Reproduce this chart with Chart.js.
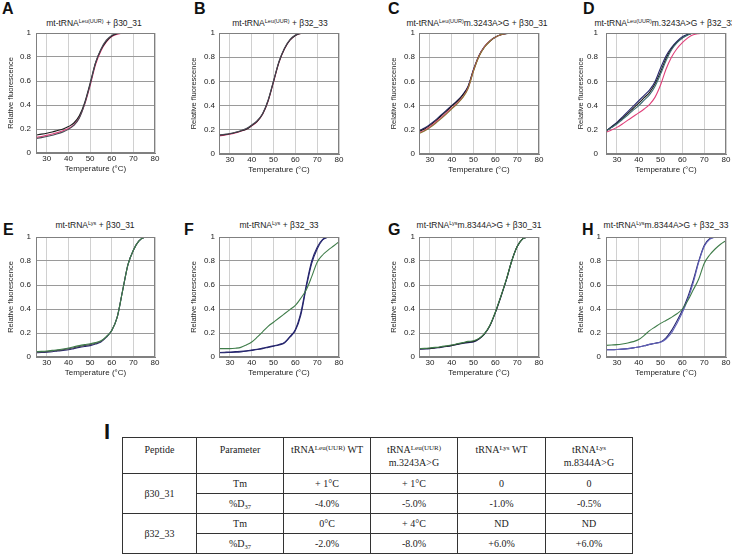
<!DOCTYPE html>
<html>
<head>
<meta charset="utf-8">
<script src="https://cdn.jsdelivr.net/npm/chart.js@4.4.0/dist/chart.umd.min.js"></script>
<style>
  body { margin: 0; background: #fff; }
  #fig { position: relative; width: 732px; height: 559px; overflow: hidden; background: #fff; font-family: "Liberation Sans", Arial, sans-serif; color: #222; }
  .lbl { position: absolute; font-weight: bold; font-size: 16px; line-height: 16px; color: #111; }
  .ttl { position: absolute; font-size: 8.5px; line-height: 10px; white-space: nowrap; transform: translateX(-50%); }
  .ttl sup { font-size: 5.5px; vertical-align: 3px; line-height: 0; }
  table { position: absolute; left: 122px; top: 437px; border-collapse: collapse; font-family: "Liberation Serif", "Times New Roman", serif; font-size: 10px; color: #222; table-layout: fixed; }
  td { border: 1px solid #333; text-align: center; padding: 0; height: 19px; }
  tr.head td { height: 30px; vertical-align: top; padding-top: 5px; line-height: 13px; }
  td sup { font-size: 7px; vertical-align: 3px; line-height: 0; }
  td sub { font-size: 6.5px; vertical-align: -2px; line-height: 0; }
</style>
</head>
<body>
<div id="fig"></div>
<script>
// Temperatures (°C) shared by all melting curves
const temps = [25, 27.5, 30, 32.5, 35, 37.5, 40, 42.5, 45, 47.5, 50, 52.5, 55, 57.5, 60, 62.5, 65, 67.5, 70, 72.5, 75, 77.5, 80];
const xTicks = [30, 40, 50, 60, 70, 80];
const yTicks = [0, 0.2, 0.4, 0.6, 0.8, 1];

// Relative fluorescence, one array per replicate curve
const aBlack = [.15, .157, .165, .175, .188, .2, .22, .25, .31, .42, .58, .75, .86, .93, .975, .995, 1];
const aDark  = [.12, .128, .137, .148, .16, .176, .197, .23, .29, .41, .57, .75, .865, .94, .98, 1];
const aPink  = [.13, .138, .147, .158, .17, .185, .205, .235, .295, .405, .56, .735, .85, .925, .97, .99, 1];

const bBlack = [.155, .16, .167, .177, .19, .205, .235, .27, .33, .44, .6, .76, .87, .94, .98, .997, 1];
const bDark  = [.158, .163, .17, .18, .193, .21, .24, .275, .335, .445, .605, .765, .875, .945, .983, 1];
const bPink  = [.15, .156, .163, .174, .188, .204, .233, .268, .328, .435, .595, .757, .868, .94, .98, .997, 1];

const cNavy  = [.19, .215, .245, .28, .32, .36, .40, .44, .49, .56, .70, .815, .888, .935, .967, .986, .996, 1];
const cBlack = [.185, .207, .237, .272, .312, .352, .395, .435, .485, .555, .695, .81, .885, .932, .965, .985, .995, 1];
const cPink  = [.175, .195, .225, .26, .298, .337, .38, .42, .47, .545, .69, .81, .886, .934, .966, .986, .997, 1];
const cOlive = [.17, .19, .218, .252, .29, .33, .373, .415, .465, .54, .685, .805, .882, .932, .966, .986, .996, 1];

const dNavy  = [.19, .225, .262, .305, .35, .395, .44, .485, .53, .6, .71, .81, .88, .93, .97, .99, 1];
const dBlack = [.19, .222, .255, .295, .335, .378, .42, .465, .51, .58, .68, .79, .87, .922, .96, .985, 1];
const dTeal  = [.19, .218, .248, .285, .322, .362, .4, .445, .49, .56, .66, .77, .86, .918, .958, .984, 1];
const dPink  = [.18, .198, .22, .248, .28, .31, .34, .372, .41, .47, .57, .7, .8, .87, .92, .96, .985, .995, 1];

const eGreen = [.045, .047, .05, .055, .06, .067, .075, .085, .095, .103, .11, .12, .135, .17, .22, .33, .55, .77, .89, .965, .995, 1];
const eNavy  = [.035, .037, .04, .044, .05, .055, .06, .07, .08, .088, .095, .108, .125, .165, .22, .33, .55, .77, .89, .965, .995, 1];
const eDark  = [.04, .042, .045, .05, .055, .061, .068, .077, .088, .096, .103, .114, .13, .168, .22, .33, .55, .77, .89, .965, .995, 1];

const fNavy  = [.035, .036, .038, .04, .043, .048, .055, .062, .07, .08, .09, .1, .117, .165, .22, .35, .58, .78, .9, .975, 1];
const fNavy2 = [.038, .04, .042, .045, .048, .052, .058, .065, .074, .083, .093, .104, .122, .17, .23, .37, .6, .8, .915, .98, 1];
const fGreen = [.07, .07, .07, .073, .08, .1, .125, .165, .21, .255, .29, .325, .36, .395, .43, .49, .56, .67, .79, .85, .89, .925, .96];

const gNavy  = [.065, .067, .07, .075, .08, .087, .095, .105, .113, .12, .125, .15, .19, .26, .37, .5, .64, .8, .92, .985, 1];
const gGreen = [.07, .072, .075, .08, .086, .093, .1, .11, .12, .13, .135, .155, .195, .265, .375, .505, .645, .8, .92, .985, 1];
const gBlack = [.068, .07, .072, .077, .083, .09, .097, .107, .116, .125, .13, .152, .192, .262, .372, .502, .642, .8, .92, .985, 1];

const hNavy  = [.06, .061, .063, .066, .07, .076, .083, .093, .105, .115, .125, .16, .22, .3, .39, .5, .64, .8, .93, .985, 1];
const hBlue  = [.06, .061, .063, .066, .07, .076, .083, .093, .105, .115, .123, .15, .2, .28, .37, .48, .62, .79, .92, .98, 1];
const hGreen = [.097, .1, .103, .109, .117, .128, .145, .18, .22, .25, .28, .305, .33, .36, .4, .47, .56, .65, .78, .85, .9, .94, .97];

// Table I
const tableHead = ['Peptide', 'Parameter', 'tRNA<sup>Leu(UUR)</sup> WT', 'tRNA<sup>Leu(UUR)</sup><br>m.3243A&gt;G', 'tRNA<sup>Lys</sup> WT', 'tRNA<sup>Lys</sup><br>m.8344A&gt;G'];
const peptides = ['β30_31', 'β32_33'];
const params = ['Tm', '%D<sub>37</sub>'];
const tableValues = [
  ['+ 1°C', '+ 1°C', '0', '0'],
  ['-4.0%', '-5.0%', '-1.0%', '-0.5%'],
  ['0°C', '+ 4°C', 'ND', 'ND'],
  ['-2.0%', '-8.0%', '+6.0%', '+6.0%']
];

// Colores
const BLACK = '#1c1c1c', DARK = '#4a4a55', PINK = '#e0407a', NAVY = '#26266e',
      BLUE = '#6060b8', GREEN = '#3f7d4a', TEAL = '#3d6d74', OLIVE = '#8a7a34';

const fig = document.getElementById('fig');

// Paneles: posicion del area del grafico en la figura
const panels = [
  { letter: 'A', lx: 2, ly: 1, title: 'mt-tRNA<sup>Leu(UUR)</sup> + β30_31', tx: 94, ty: 18,
    left: 36, right: 155, top: 33, bottom: 153, titleX: 10, gap: 5,
    series: [[aDark, DARK], [aBlack, BLACK], [aPink, PINK]] },
  { letter: 'B', lx: 194, ly: 1, title: 'mt-tRNA<sup>Leu(UUR)</sup> + β32_33', tx: 280, ty: 18,
    left: 219, right: 339, top: 33, bottom: 154, titleX: 193, gap: 4,
    series: [[bDark, DARK], [bBlack, BLACK], [bPink, PINK]] },
  { letter: 'C', lx: 388, ly: 1, title: 'mt-tRNA<sup>Leu(UUR)</sup>m.3243A&gt;G + β30_31', tx: 477, ty: 18,
    left: 419, right: 539, top: 33, bottom: 154, titleX: 393, gap: 4,
    series: [[cOlive, OLIVE], [cPink, PINK], [cBlack, BLACK], [cNavy, NAVY]] },
  { letter: 'D', lx: 583, ly: 1, title: 'mt-tRNA<sup>Leu(UUR)</sup>m.3243A&gt;G + β32_33', tx: 665, ty: 18,
    left: 606, right: 726, top: 33, bottom: 154, titleX: 580, gap: 8,
    series: [[dTeal, TEAL], [dBlack, BLACK], [dNavy, NAVY], [dPink, PINK]] },
  { letter: 'E', lx: 3, ly: 222, title: 'mt-tRNA<sup>Lys</sup> + β30_31', tx: 95, ty: 220,
    left: 36, right: 155, top: 237, bottom: 357, titleX: 10, gap: 5,
    series: [[eGreen, GREEN], [eDark, DARK], [eNavy, NAVY]] },
  { letter: 'F', lx: 184, ly: 222, title: 'mt-tRNA<sup>Lys</sup> + β32_33', tx: 279, ty: 220,
    left: 219, right: 339, top: 237, bottom: 357, titleX: 193, gap: 4,
    series: [[fGreen, GREEN], [fNavy2, NAVY], [fNavy, NAVY]] },
  { letter: 'G', lx: 388, ly: 222, title: 'mt-tRNA<sup>Lys</sup>m.8344A&gt;G + β30_31', tx: 479, ty: 220,
    left: 419, right: 539, top: 237, bottom: 357, titleX: 393, gap: 4,
    series: [[gGreen, GREEN], [gBlack, BLACK], [gNavy, NAVY]] },
  { letter: 'H', lx: 582, ly: 222, title: 'mt-tRNA<sup>Lys</sup>m.8344A&gt;G + β32_33', tx: 666, ty: 220,
    left: 606, right: 726, top: 237, bottom: 357, titleX: 580, gap: 5,
    series: [[hGreen, GREEN], [hBlue, BLUE], [hNavy, NAVY]] }
];

// Marco alrededor del area del grafico
const boxPlugin = {
  id: 'box',
  afterDraw(chart) {
    const a = chart.chartArea, ctx = chart.ctx;
    ctx.save();
    ctx.strokeStyle = '#808080';
    ctx.lineWidth = 1;
    ctx.strokeRect(Math.round(a.left) + 0.5, Math.round(a.top) + 0.5,
      Math.round(a.right - a.left) - 1, Math.round(a.bottom - a.top) - 1);
    ctx.restore();
  }
};

function addDiv(cls, html, x, y, style) {
  const d = document.createElement('div');
  d.className = cls;
  d.innerHTML = html;
  d.style.left = x + 'px';
  d.style.top = y + 'px';
  if (style) Object.assign(d.style, style);
  fig.appendChild(d);
}

function makePanel(p) {
  addDiv('lbl', p.letter, p.lx, p.ly);
  addDiv('ttl', p.title, p.tx, p.ty);

  const xh = 21;
  const padTop = p.gap + 6;
  const cl = Math.round(p.titleX - 4.5);
  const ct = p.top - padTop;
  const cr = Math.min(p.right + 7, 732);
  const cw = cr - cl;
  const ch = p.bottom + xh - ct;
  const cv = document.createElement('canvas');
  cv.width = cw;
  cv.height = ch;
  cv.style.cssText = `position:absolute;left:${cl}px;top:${ct}px;width:${cw}px;height:${ch}px`;
  fig.appendChild(cv);

  new Chart(cv, {
    type: 'line',
    data: {
      datasets: p.series.map(([ys, color]) => ({
        data: ys.map((y, i) => ({ x: temps[i], y })),
        borderColor: color,
        borderWidth: 1.1,
        pointRadius: 0,
        fill: false,
        cubicInterpolationMode: 'monotone'
      }))
    },
    options: {
      responsive: false,
      animation: false,
      devicePixelRatio: 1,
      layout: { padding: { top: padTop, right: cr - p.right, left: 0, bottom: 0 } },
      plugins: { legend: { display: false }, tooltip: { enabled: false } },
      scales: {
        x: {
          type: 'linear', min: 25, max: 80,
          afterBuildTicks: s => { s.ticks = xTicks.map(v => ({ value: v })); },
          afterFit: s => { s.height = xh; },
          ticks: { padding: 1, color: '#222', font: { size: 8, family: 'Liberation Sans' }, callback: v => String(v) },
          grid: { color: '#d0d0d0', drawTicks: false },
          border: { color: '#808080' },
          title: { display: true, text: 'Temperature (°C)', padding: 0, color: '#222', font: { size: 8, family: 'Liberation Sans' } }
        },
        y: {
          min: 0, max: 1,
          afterBuildTicks: s => { s.ticks = yTicks.map(v => ({ value: v })); },
          afterFit: s => { s.width = p.left - cl; },
          ticks: { padding: p.gap, color: '#222', font: { size: 8, family: 'Liberation Sans' }, callback: v => String(v) },
          grid: { color: '#9a9a9a', drawTicks: false },
          border: { color: '#808080' },
          title: { display: true, text: 'Relative fluorescence', padding: 0, color: '#222', font: { size: 7.5, family: 'Liberation Sans' } }
        }
      }
    },
    plugins: [boxPlugin]
  });
}

panels.forEach(makePanel);

// Tabla I
addDiv('lbl', 'I', 104, 421, { fontSize: '22px', lineHeight: '22px' });
const table = document.createElement('table');
const widths = [74, 87, 87, 87, 88, 87];
let html = '<colgroup>' + widths.map(w => `<col style="width:${w}px">`).join('') + '</colgroup>';
html += '<tr class="head">' + tableHead.map(h => `<td>${h}</td>`).join('') + '</tr>';
tableValues.forEach((row, i) => {
  html += '<tr>';
  if (i % 2 === 0) html += `<td rowspan="2">${peptides[i / 2]}</td>`;
  html += `<td>${params[i % 2]}</td>` + row.map(v => `<td>${v}</td>`).join('') + '</tr>';
});
table.innerHTML = html;
fig.appendChild(table);
</script>
</body>
</html>
